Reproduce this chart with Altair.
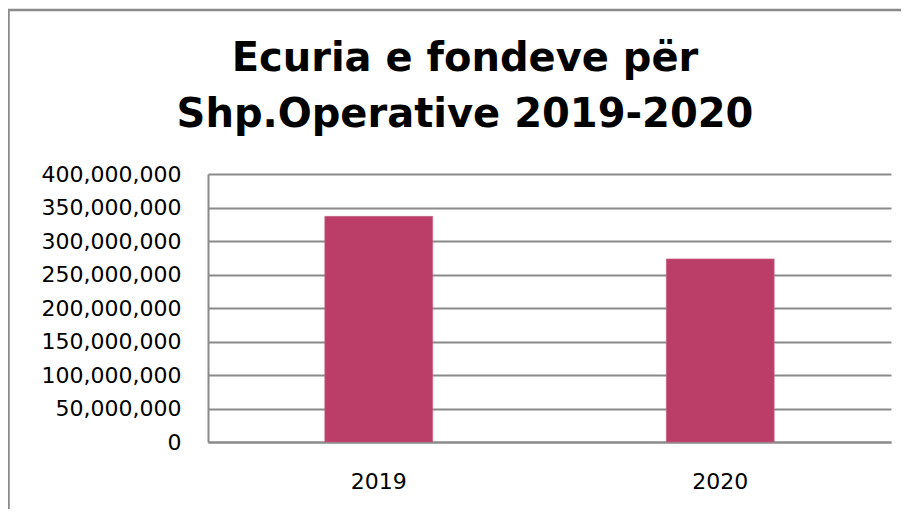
import altair as alt
import pandas as pd

years = ["2019", "2020"]
funds = [336800000, 273300000]
y_ticks = [0, 50000000, 100000000, 150000000, 200000000, 250000000, 300000000, 350000000, 400000000]
title_lines = ["Ecuria e fondeve për", "Shp.Operative 2019-2020"]

df = pd.DataFrame({"year": years, "value": funds})

FONT = "DejaVu Sans"
GRAY = "#8a8a8a"

bars = alt.Chart(df).mark_bar(color="#BA3E67", stroke="#c9668a", strokeWidth=0.6).encode(
    x=alt.X("year:N", title=None, sort=years,
            scale=alt.Scale(paddingInner=0.684, paddingOuter=0.342),
            axis=alt.Axis(labelAngle=0, ticks=False, domain=True, domainColor=GRAY,
                          domainWidth=2, labelPadding=29, labelFontSize=22,
                          labelFont=FONT, labelColor="#000000", grid=False)),
    y=alt.Y("value:Q", title=None,
            scale=alt.Scale(domain=[0, 400000000], nice=False),
            axis=alt.Axis(values=y_ticks, format=",d", ticks=False, domain=True,
                          domainColor=GRAY, domainWidth=2, labelPadding=27,
                          labelFontSize=22, labelFont=FONT, labelColor="#000000",
                          grid=True, gridColor=GRAY, gridWidth=2, gridOpacity=1)),
)

frame_df = pd.DataFrame({"k": [0]})
left_border = alt.Chart(frame_df).mark_rule(color=GRAY, strokeWidth=2.5).encode(
    x=alt.value(-199.5), y=alt.value(-165), y2=alt.value(345)
)
top_border = alt.Chart(frame_df).mark_rule(color=GRAY, strokeWidth=2.5).encode(
    x=alt.value(-200), x2=alt.value(705), y=alt.value(-164)
)

title_text = alt.Chart(frame_df).mark_text(
    font=FONT, fontSize=40, fontWeight="bold", color="#000000",
    align="center", baseline="middle", lineHeight=56
).encode(
    x=alt.value(257), y=alt.value(-115), text=alt.value(title_lines)
)

chart = alt.layer(bars, left_border, top_border, title_text).properties(
    width=683,
    height=268,
    padding={"left": 200, "top": 166, "right": 10, "bottom": 67},
    autosize=alt.AutoSizeParams(type="none"),
    background="white",
).configure_view(stroke=None)

chart.save("out.html", embed_options={"renderer": "svg", "actions": False})
